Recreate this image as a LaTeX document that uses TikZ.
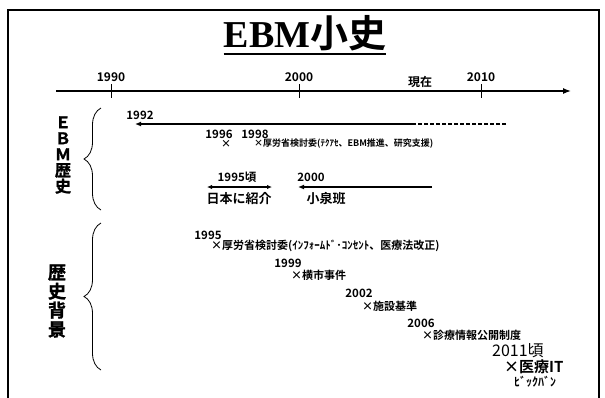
\documentclass[tikz,border=0pt]{standalone}
\usepackage{fontspec}
\setmainfont{Liberation Serif}
\newfontfamily\jp{Noto Sans CJK JP}[BoldFont={Noto Sans CJK JP Bold}]
\newfontfamily\jpheavy{Noto Sans CJK JP Bold}[FakeBold=1.5]
\usetikzlibrary{arrows.meta,decorations.pathreplacing}
\begin{document}
\begin{tikzpicture}[x=1pt,y=-1pt,
  yr/.style={font=\jp\bfseries\fontsize{11.5}{12}\selectfont, inner sep=0},
  ev/.style={font=\jp\bfseries\fontsize{11}{12}\selectfont, inner sep=0, anchor=west},
  jpn/.style={font=\jp\bfseries\fontsize{13}{14}\selectfont, inner sep=0},
  ax/.style={font=\jp\bfseries\fontsize{12}{14}\selectfont, inner sep=0},
  tickline/.style={line width=1pt},
  arr/.style={line width=1.2pt,-{Latex[length=6pt,width=5pt]}},
  dbl/.style={line width=1.2pt,{Latex[length=5pt,width=4.5pt]}-{Latex[length=5pt,width=4.5pt]}},
  brc/.style={decorate, decoration={brace, amplitude=17pt}, line width=0.8pt},
]
\useasboundingbox (0,0) rectangle (605,397);
\fill[white] (0,0) rectangle (605,397);
% frame
\draw[line width=2.5pt] (8,420) -- (8,10) -- (599,10) -- (599,420);
% title
\node[inner sep=0, anchor=base] (title) at (305,47) {\fontsize{38}{40}\selectfont\bfseries EBM{\jp 小史}};
\draw[line width=2pt] ([yshift=-7pt]title.base west) -- ([yshift=-7pt]title.base east);
% axis
\coordinate (axs) at (56,91);
\coordinate (axe) at (571,91);
\draw[line width=1.3pt,-{Latex[length=8pt,width=6pt]}] (axs) -- (axe);
\coordinate (t1a) at (111,84); \coordinate (t1b) at (111,98);
\coordinate (t2a) at (299,84); \coordinate (t2b) at (299,98);
\coordinate (t3a) at (481,84); \coordinate (t3b) at (481,98);
\draw[tickline] (t1a) -- (t1b);
\draw[tickline] (t2a) -- (t2b);
\draw[tickline] (t3a) -- (t3b);
\node[ax] (y1990) at (111,77) {1990};
\node[ax] (y2000) at (299,77) {2000};
\node[ax] (y2010) at (481,77) {2010};
\node[ax] (genzai) at (420,82) {現在};
% EBM history
\node[font=\jpheavy\fontsize{16}{16}\selectfont, align=center, inner sep=0] (ebmh) at (63,155) {Ｅ\\Ｂ\\Ｍ\\歴\\史};
\coordinate (b1t) at (101,108); \coordinate (b1b) at (101,210);
\draw[brc] (b1b) -- (b1t);
\node[yr] (y1992) at (140,115) {1992};
\coordinate (a1r) at (506,124); \coordinate (a1m) at (412,124); \coordinate (a1l) at (135,124);
\draw[line width=1.2pt, dash pattern=on 4pt off 2pt] (a1r) -- (a1m);
\draw[arr] (a1m) -- (a1l);
\node[yr] (y1996) at (219,134) {1996};
\node[yr] (y1998) at (255,134) {1998};
\node[font=\jp\bfseries\fontsize{10}{12}\selectfont, inner sep=0] (x1996) at (226,144) {×};
\node[ev, font=\jp\bfseries\fontsize{9}{11}\selectfont] (e1998) at (254,144) {×厚労省検討委(ﾃｸｱｾ、EBM推進、研究支援)};
\node[yr] (y1995k) at (237,177) {1995頃};
\coordinate (d1l) at (207,187); \coordinate (d1r) at (272,187);
\draw[dbl] (d1l) -- (d1r);
\node[jpn] (nihon) at (239,199) {日本に紹介};
\node[yr] (y2000b) at (311,177) {2000};
\coordinate (a2r) at (432,187); \coordinate (a2l) at (298,187);
\draw[arr] (a2r) -- (a2l);
\node[jpn] (koizumi) at (326,199) {小泉班};
% background
\node[font=\jpheavy\fontsize{18}{19}\selectfont, align=center, inner sep=0] (haikei) at (57,301) {歴\\史\\背\\景};
\coordinate (b2t) at (101,223); \coordinate (b2b) at (101,370);
\draw[brc] (b2b) -- (b2t);
\node[yr] (y1995) at (208,235) {1995};
\node[ev] (e1995) at (211,246) {×厚労省検討委(ｲﾝﾌｫｰﾑﾄﾞ･ｺﾝｾﾝﾄ、医療法改正)};
\node[yr] (y1999) at (288,263) {1999};
\node[ev] (e1999) at (291,275) {×横市事件};
\node[yr] (y2002) at (359,293) {2002};
\node[ev] (e2002) at (362,306) {×施設基準};
\node[yr] (y2006) at (421,323) {2006};
\node[ev] (e2006) at (422,335) {×診療情報公開制度};
\node[font=\jp\fontsize{16}{18}\selectfont, anchor=west, inner sep=0] (y2011) at (492,351) {2011頃};
\node[font=\jp\bfseries\fontsize{15}{16}\selectfont, anchor=west, inner sep=0] (e2011) at (504,367) {×医療IT};
\node[font=\jp\bfseries\fontsize{12}{13}\selectfont, anchor=west, inner sep=0] (bigbang) at (514,382) {ﾋﾞｯｸﾊﾞﾝ};
\end{tikzpicture}
\end{document}
